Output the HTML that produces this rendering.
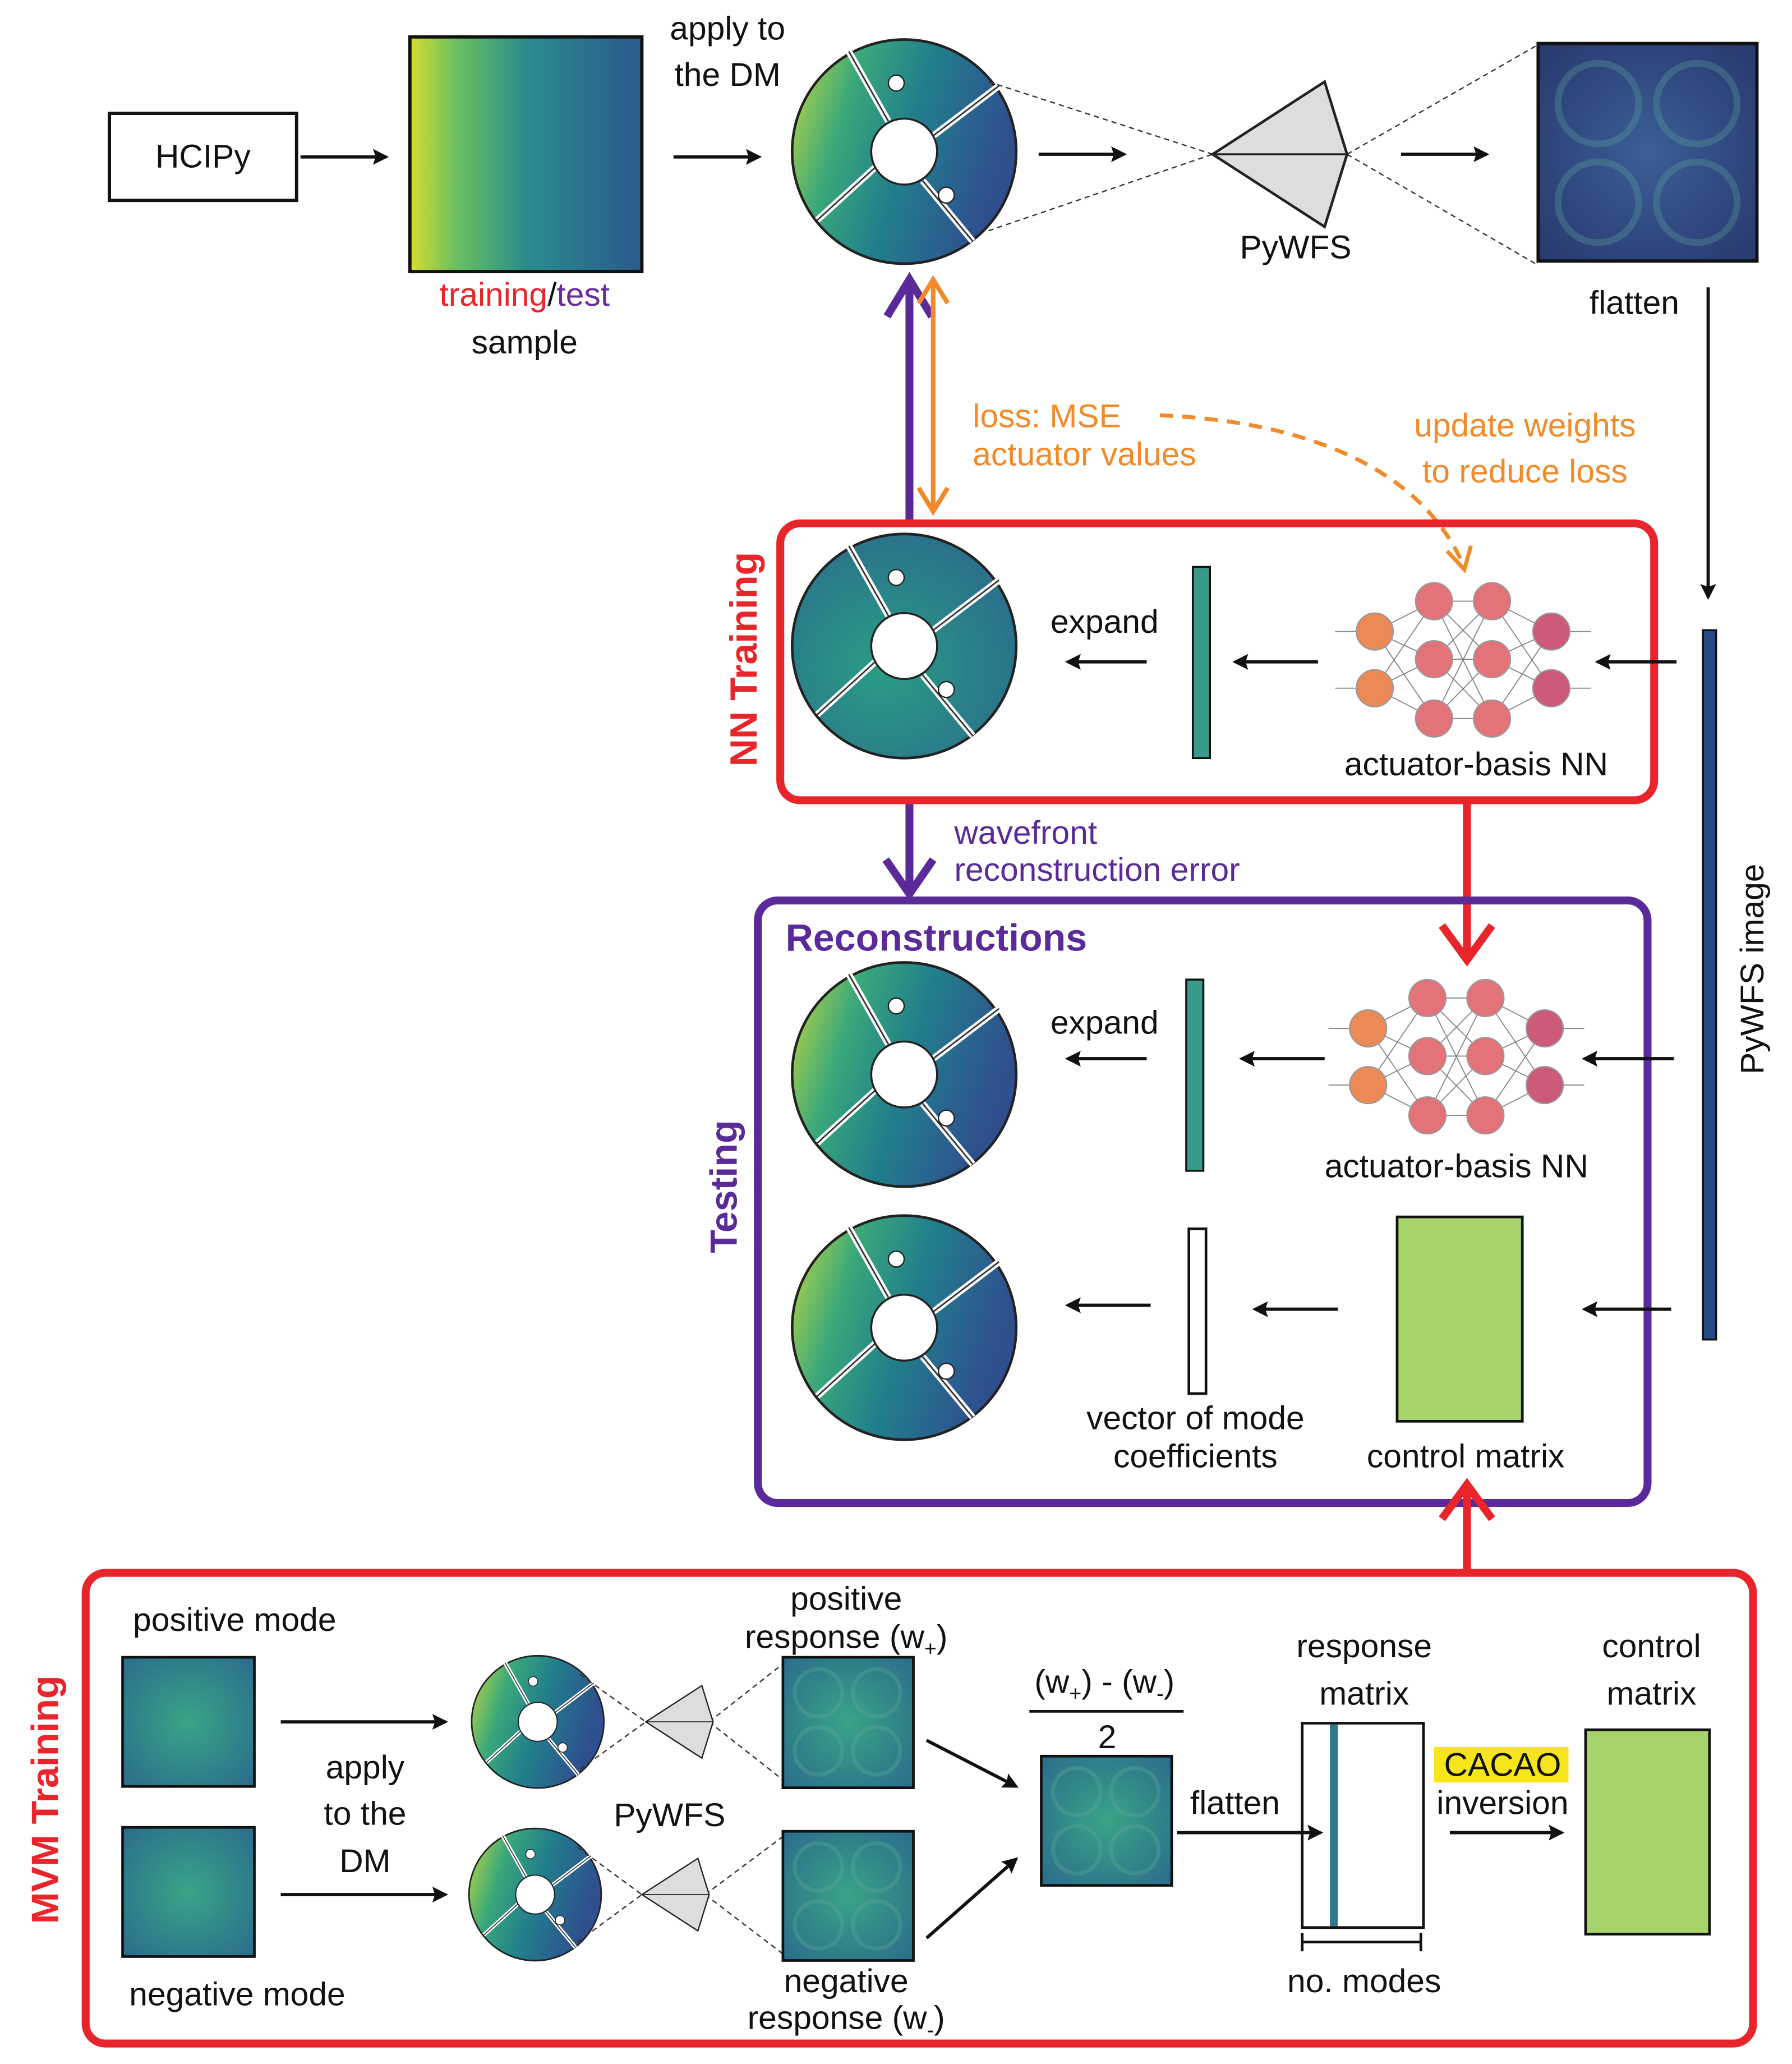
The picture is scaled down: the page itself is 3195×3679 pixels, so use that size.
<!DOCTYPE html>
<html><head><meta charset="utf-8"><style>
html,body{margin:0;padding:0;background:#fff}
svg{display:block}
text{font-family:"Liberation Sans",sans-serif;font-size:25px;fill:#111}
</style></head><body>
<svg width="3195" height="3679" viewBox="0 0 1359.6 1565.5" preserveAspectRatio="none" xmlns="http://www.w3.org/2000/svg">
<defs>
<marker id="ak" markerWidth="12" markerHeight="12" refX="10" refY="6" orient="auto" markerUnits="userSpaceOnUse"><path d="M0,0 L12,6 L0,12 L2,6z" fill="#111"/></marker>
<linearGradient id="gs" x1="0" y1="0" x2="1" y2="0"><stop offset="0" stop-color="#d8dc30"/><stop offset="0.2" stop-color="#6ac060"/><stop offset="0.5" stop-color="#2a8c8c"/><stop offset="1" stop-color="#2a5a8c"/></linearGradient>
<linearGradient id="gd" x1="0" y1="0" x2="1" y2="0.3"><stop offset="0" stop-color="#c8dc3a"/><stop offset="0.3" stop-color="#3aa87a"/><stop offset="0.6" stop-color="#227e8c"/><stop offset="1" stop-color="#2f4f8f"/></linearGradient>
<radialGradient id="gn" cx="0.4" cy="0.6" r="0.7"><stop offset="0" stop-color="#2a9c84"/><stop offset="1" stop-color="#2a6c8c"/></radialGradient>
<radialGradient id="gw" cx="0.5" cy="0.5" r="0.7"><stop offset="0" stop-color="#3a5f96"/><stop offset="1" stop-color="#28386e"/></radialGradient>
<radialGradient id="gm" cx="0.5" cy="0.5" r="0.7"><stop offset="0" stop-color="#3aa486"/><stop offset="1" stop-color="#2a6c8c"/></radialGradient>
<g id="disk">
<circle r="85" stroke="#222" stroke-width="2"/>
<g stroke="#fff" stroke-width="5"><line x1="-12" y1="-23" x2="-42" y2="-76"/><line x1="22" y1="-12" x2="72" y2="-50"/><line x1="-22" y1="12" x2="-66" y2="52"/><line x1="14" y1="22" x2="52" y2="68"/></g>
<g stroke="#333" stroke-width="1.2"><line x1="-12" y1="-23" x2="-42" y2="-76"/><line x1="22" y1="-12" x2="72" y2="-50"/><line x1="-22" y1="12" x2="-66" y2="52"/><line x1="14" y1="22" x2="52" y2="68"/></g>
<circle r="25" fill="#fff" stroke="#222" stroke-width="1.5"/>
<circle cx="-6" cy="-52" r="6" fill="#fff" stroke="#222"/><circle cx="32" cy="33" r="6" fill="#fff" stroke="#222"/>
</g>
<g id="nn">
<g stroke="#888" stroke-width="0.8">
<path d="M0,-12 L45,-35 M0,-12 L45,9 M0,-12 L45,54 M0,31 L45,-35 M0,31 L45,9 M0,31 L45,54 M45,-35 L89,-35 M45,-35 L89,9 M45,-35 L89,54 M45,9 L89,-35 M45,9 L89,9 M45,9 L89,54 M45,54 L89,-35 M45,54 L89,9 M45,54 L89,54 M89,-35 L134,-12 M89,9 L134,-12 M89,54 L134,-12 M89,-35 L134,31 M89,9 L134,31 M89,54 L134,31 M-30,-12 L0,-12 M-30,31 L0,31 M134,-12 L164,-12 M134,31 L164,31"/></g>
<g stroke="#999" stroke-width="1">
<circle cx="0" cy="-12" r="14" fill="#ec8a56"/><circle cx="0" cy="31" r="14" fill="#ec8a56"/>
<circle cx="45" cy="-35" r="14" fill="#e37379"/><circle cx="45" cy="9" r="14" fill="#e37379"/><circle cx="45" cy="54" r="14" fill="#e37379"/>
<circle cx="89" cy="-35" r="14" fill="#e37379"/><circle cx="89" cy="9" r="14" fill="#e37379"/><circle cx="89" cy="54" r="14" fill="#e37379"/>
<circle cx="134" cy="-12" r="14" fill="#cc5a78"/><circle cx="134" cy="31" r="14" fill="#cc5a78"/></g>
</g>
<g id="pyr"><polygon points="0,0 85,-55 102,0 85,55" fill="#ddd" stroke="#222" stroke-width="2"/><line x1="0" y1="0" x2="102" y2="0" stroke="#222" stroke-width="1.5"/></g>
<g id="wfs4"><circle cx="-22" cy="-22" r="18" fill="none" stroke="#5fa89a" stroke-width="3"/><circle cx="22" cy="-22" r="18" fill="none" stroke="#5fa89a" stroke-width="3"/><circle cx="-22" cy="22" r="18" fill="none" stroke="#5fa89a" stroke-width="3"/><circle cx="22" cy="22" r="18" fill="none" stroke="#5fa89a" stroke-width="3"/></g>
</defs>

<!-- top row -->
<rect x="83" y="86" width="142" height="66" fill="#fff" stroke="#111" stroke-width="2.5"/>
<text x="154" y="127" text-anchor="middle">HCIPy</text>
<line x1="228" y1="119" x2="293" y2="119" stroke="#111" stroke-width="2.5" marker-end="url(#ak)"/>
<rect x="311" y="28" width="176" height="178" fill="url(#gs)" stroke="#111" stroke-width="2.5"/>
<text x="398" y="232" text-anchor="middle"><tspan fill="#e8252a">training</tspan>/<tspan fill="#6a2c98">test</tspan></text>
<text x="398" y="268" text-anchor="middle">sample</text>
<text x="552" y="30" text-anchor="middle">apply to</text>
<text x="552" y="65" text-anchor="middle">the DM</text>
<line x1="511" y1="119" x2="576" y2="119" stroke="#111" stroke-width="2.5" marker-end="url(#ak)"/>
<use href="#disk" x="686" y="115" fill="url(#gd)"/>
<line x1="788" y1="117" x2="853" y2="117" stroke="#111" stroke-width="2.5" marker-end="url(#ak)"/>
<g stroke="#333" stroke-width="1" stroke-dasharray="4,3" fill="none"><line x1="750" y1="62" x2="920" y2="117"/><line x1="750" y1="175" x2="920" y2="117"/><line x1="1022" y1="117" x2="1165" y2="35"/><line x1="1022" y1="117" x2="1165" y2="200"/></g>
<use href="#pyr" x="920" y="117"/>
<text x="983" y="196" text-anchor="middle">PyWFS</text>
<line x1="1063" y1="117" x2="1128" y2="117" stroke="#111" stroke-width="2.5" marker-end="url(#ak)"/>
<rect x="1167" y="33" width="166" height="165" fill="url(#gw)" stroke="#111" stroke-width="2.5"/>
<g transform="translate(1250,116) scale(1.7)" opacity="0.3"><use href="#wfs4"/></g>
<text x="1240" y="238" text-anchor="middle">flatten</text>
<line x1="1296" y1="218" x2="1296" y2="453" stroke="#111" stroke-width="2.5" marker-end="url(#ak)"/>
<rect x="1292" y="478" width="10" height="538" fill="#2a4a86" stroke="#111" stroke-width="1.5"/>
<text transform="translate(1338,735) rotate(-90)" text-anchor="middle">PyWFS image</text>

<!-- loss arrows -->
<line x1="690" y1="395" x2="690" y2="212" stroke="#5a2a98" stroke-width="6"/>
<path d="M673,240 L690,212 L707,240" fill="none" stroke="#5a2a98" stroke-width="6"/>
<line x1="708" y1="388" x2="708" y2="212" stroke="#f28a2a" stroke-width="3.5"/>
<path d="M697,230 L708,212 L719,230 M697,370 L708,388 L719,370" fill="none" stroke="#f28a2a" stroke-width="3.5"/>
<text x="738" y="324" style="fill:#f28a2a">loss: MSE</text>
<text x="738" y="353" style="fill:#f28a2a">actuator values</text>
<path d="M880,315 C1000,320 1080,360 1110,428" fill="none" stroke="#f28a2a" stroke-width="3" stroke-dasharray="10,7"/>
<path d="M1098,418 L1111,432 L1116,414" fill="none" stroke="#f28a2a" stroke-width="3"/>
<text x="1157" y="331" text-anchor="middle" style="fill:#f28a2a">update weights</text>
<text x="1157" y="366" text-anchor="middle" style="fill:#f28a2a">to reduce loss</text>

<!-- NN Training box -->
<rect x="592" y="397" width="663" height="210" rx="15" fill="none" stroke="#e8252a" stroke-width="6"/>
<text transform="translate(574,500) rotate(-90)" text-anchor="middle" style="fill:#e8252a;font-weight:bold;font-size:29px">NN Training</text>
<use href="#disk" x="686" y="490" fill="url(#gn)"/>
<text x="838" y="480" text-anchor="middle">expand</text>
<line x1="870" y1="502" x2="810" y2="502" stroke="#111" stroke-width="2.5" marker-end="url(#ak)"/>
<rect x="905" y="430" width="13" height="145" fill="#3a9a8a" stroke="#111" stroke-width="1.5"/>
<line x1="1000" y1="502" x2="937" y2="502" stroke="#111" stroke-width="2.5" marker-end="url(#ak)"/>
<use href="#nn" x="1043" y="491"/>
<text x="1120" y="588" text-anchor="middle">actuator-basis NN</text>
<line x1="1272" y1="502" x2="1212" y2="502" stroke="#111" stroke-width="2.5" marker-end="url(#ak)"/>

<!-- between -->
<line x1="690" y1="610" x2="690" y2="678" stroke="#5a2a98" stroke-width="6"/>
<path d="M672,652 L690,678 L708,652" fill="none" stroke="#5a2a98" stroke-width="6"/>
<text x="724" y="640" style="fill:#5a2a98">wavefront</text>
<text x="724" y="668" style="fill:#5a2a98">reconstruction error</text>
<line x1="1113" y1="610" x2="1113" y2="728" stroke="#e8252a" stroke-width="6"/>
<path d="M1094,702 L1113,728 L1132,702" fill="none" stroke="#e8252a" stroke-width="6"/>

<!-- Reconstructions -->
<rect x="575" y="683" width="675" height="457" rx="15" fill="none" stroke="#5a2a98" stroke-width="6"/>
<text x="596" y="721" style="fill:#5a2a98;font-weight:bold;font-size:29px">Reconstructions</text>
<text transform="translate(559,900) rotate(-90)" text-anchor="middle" style="fill:#5a2a98;font-weight:bold;font-size:29px">Testing</text>
<use href="#disk" x="686" y="815" fill="url(#gd)"/>
<text x="838" y="784" text-anchor="middle">expand</text>
<line x1="870" y1="803" x2="810" y2="803" stroke="#111" stroke-width="2.5" marker-end="url(#ak)"/>
<rect x="900" y="743" width="13" height="145" fill="#3a9a8a" stroke="#111" stroke-width="1.5"/>
<line x1="1005" y1="803" x2="942" y2="803" stroke="#111" stroke-width="2.5" marker-end="url(#ak)"/>
<use href="#nn" x="1038" y="792"/>
<text x="1105" y="893" text-anchor="middle">actuator-basis NN</text>
<line x1="1270" y1="803" x2="1202" y2="803" stroke="#111" stroke-width="2.5" marker-end="url(#ak)"/>
<use href="#disk" x="686" y="1007" fill="url(#gd)"/>
<line x1="873" y1="990" x2="810" y2="990" stroke="#111" stroke-width="2.5" marker-end="url(#ak)"/>
<rect x="902" y="932" width="13" height="125" fill="#fff" stroke="#111" stroke-width="2"/>
<line x1="1015" y1="993" x2="952" y2="993" stroke="#111" stroke-width="2.5" marker-end="url(#ak)"/>
<rect x="1060" y="923" width="95" height="155" fill="#a8d26a" stroke="#111" stroke-width="2"/>
<line x1="1268" y1="993" x2="1202" y2="993" stroke="#111" stroke-width="2.5" marker-end="url(#ak)"/>
<text x="907" y="1084" text-anchor="middle">vector of mode</text>
<text x="907" y="1113" text-anchor="middle">coefficients</text>
<text x="1112" y="1113" text-anchor="middle">control matrix</text>
<line x1="1113" y1="1192" x2="1113" y2="1128" stroke="#e8252a" stroke-width="6"/>
<path d="M1094,1152 L1113,1126 L1132,1152" fill="none" stroke="#e8252a" stroke-width="6"/>

<!-- MVM Training -->
<rect x="65" y="1193" width="1265" height="357" rx="15" fill="none" stroke="#e8252a" stroke-width="6"/>
<text transform="translate(44,1365) rotate(-90)" text-anchor="middle" style="fill:#e8252a;font-weight:bold;font-size:29px">MVM Training</text>
<text x="178" y="1237" text-anchor="middle">positive mode</text>
<rect x="93" y="1257" width="100" height="98" fill="url(#gm)" stroke="#111" stroke-width="2"/>
<rect x="93" y="1386" width="100" height="98" fill="url(#gm)" stroke="#111" stroke-width="2"/>
<text x="180" y="1521" text-anchor="middle">negative mode</text>
<line x1="213" y1="1306" x2="338" y2="1306" stroke="#111" stroke-width="2.5" marker-end="url(#ak)"/>
<line x1="213" y1="1437" x2="338" y2="1437" stroke="#111" stroke-width="2.5" marker-end="url(#ak)"/>
<text x="277" y="1349" text-anchor="middle">apply</text>
<text x="277" y="1384" text-anchor="middle">to the</text>
<text x="277" y="1420" text-anchor="middle">DM</text>
<g transform="translate(408,1306) scale(0.59)"><use href="#disk" fill="url(#gd)"/></g>
<g transform="translate(406,1437) scale(0.59)"><use href="#disk" fill="url(#gd)"/></g>
<g stroke="#333" stroke-width="1" stroke-dasharray="4,3"><line x1="440" y1="1270" x2="490" y2="1306"/><line x1="440" y1="1342" x2="490" y2="1306"/><line x1="538" y1="1306" x2="594" y2="1262"/><line x1="538" y1="1306" x2="594" y2="1350"/><line x1="438" y1="1401" x2="487" y2="1437"/><line x1="438" y1="1473" x2="487" y2="1437"/><line x1="535" y1="1437" x2="594" y2="1393"/><line x1="535" y1="1437" x2="594" y2="1482"/></g>
<g transform="translate(490,1306) scale(0.5)"><use href="#pyr"/></g>
<g transform="translate(487,1437) scale(0.5)"><use href="#pyr"/></g>
<text x="508" y="1385" text-anchor="middle">PyWFS</text>
<text x="642" y="1221" text-anchor="middle">positive</text>
<text x="642" y="1250" text-anchor="middle">response (w<tspan font-size="16" dy="6">+</tspan><tspan dy="-6">)</tspan></text>
<rect x="594" y="1257" width="99" height="99" fill="url(#gm)" stroke="#111" stroke-width="2"/>
<g transform="translate(643,1306)" opacity="0.35"><use href="#wfs4"/></g>
<rect x="594" y="1389" width="99" height="98" fill="url(#gm)" stroke="#111" stroke-width="2"/>
<g transform="translate(643,1438)" opacity="0.35"><use href="#wfs4"/></g>
<text x="642" y="1511" text-anchor="middle">negative</text>
<text x="642" y="1539" text-anchor="middle">response (w<tspan font-size="16" dy="6">-</tspan><tspan dy="-6">)</tspan></text>
<line x1="703" y1="1320" x2="771" y2="1355" stroke="#111" stroke-width="2.5" marker-end="url(#ak)"/>
<line x1="703" y1="1470" x2="771" y2="1410" stroke="#111" stroke-width="2.5" marker-end="url(#ak)"/>
<text x="838" y="1284" text-anchor="middle">(w<tspan font-size="16" dy="6">+</tspan><tspan dy="-6">) - (w</tspan><tspan font-size="16" dy="6">-</tspan><tspan dy="-6">)</tspan></text>
<line x1="781" y1="1298" x2="898" y2="1298" stroke="#111" stroke-width="2"/>
<text x="840" y="1326" text-anchor="middle">2</text>
<rect x="790" y="1332" width="99" height="98" fill="url(#gm)" stroke="#111" stroke-width="2"/>
<g transform="translate(839,1381)" opacity="0.35"><use href="#wfs4"/></g>
<text x="937" y="1376" text-anchor="middle">flatten</text>
<text x="1035" y="1257" text-anchor="middle">response</text>
<text x="1035" y="1293" text-anchor="middle">matrix</text>
<rect x="988" y="1307" width="92" height="155" fill="#fff" stroke="#111" stroke-width="2"/>
<rect x="1009" y="1308" width="6" height="153" fill="#2a7a8a"/>
<line x1="893" y1="1390" x2="1002" y2="1390" stroke="#111" stroke-width="2.5" marker-end="url(#ak)"/>
<path d="M988,1466 V1480 M988,1473 H1078 M1078,1466 V1480" stroke="#111" stroke-width="2" fill="none"/>
<text x="1035" y="1511" text-anchor="middle">no. modes</text>
<rect x="1088" y="1325" width="102" height="27" fill="#f7e51c"/>
<text x="1140" y="1347" text-anchor="middle">CACAO</text>
<text x="1140" y="1376" text-anchor="middle">inversion</text>
<line x1="1100" y1="1390" x2="1185" y2="1390" stroke="#111" stroke-width="2.5" marker-end="url(#ak)"/>
<text x="1253" y="1257" text-anchor="middle">control</text>
<text x="1253" y="1293" text-anchor="middle">matrix</text>
<rect x="1203" y="1312" width="94" height="155" fill="#a8d26a" stroke="#111" stroke-width="2"/>
</svg>
</body></html>
